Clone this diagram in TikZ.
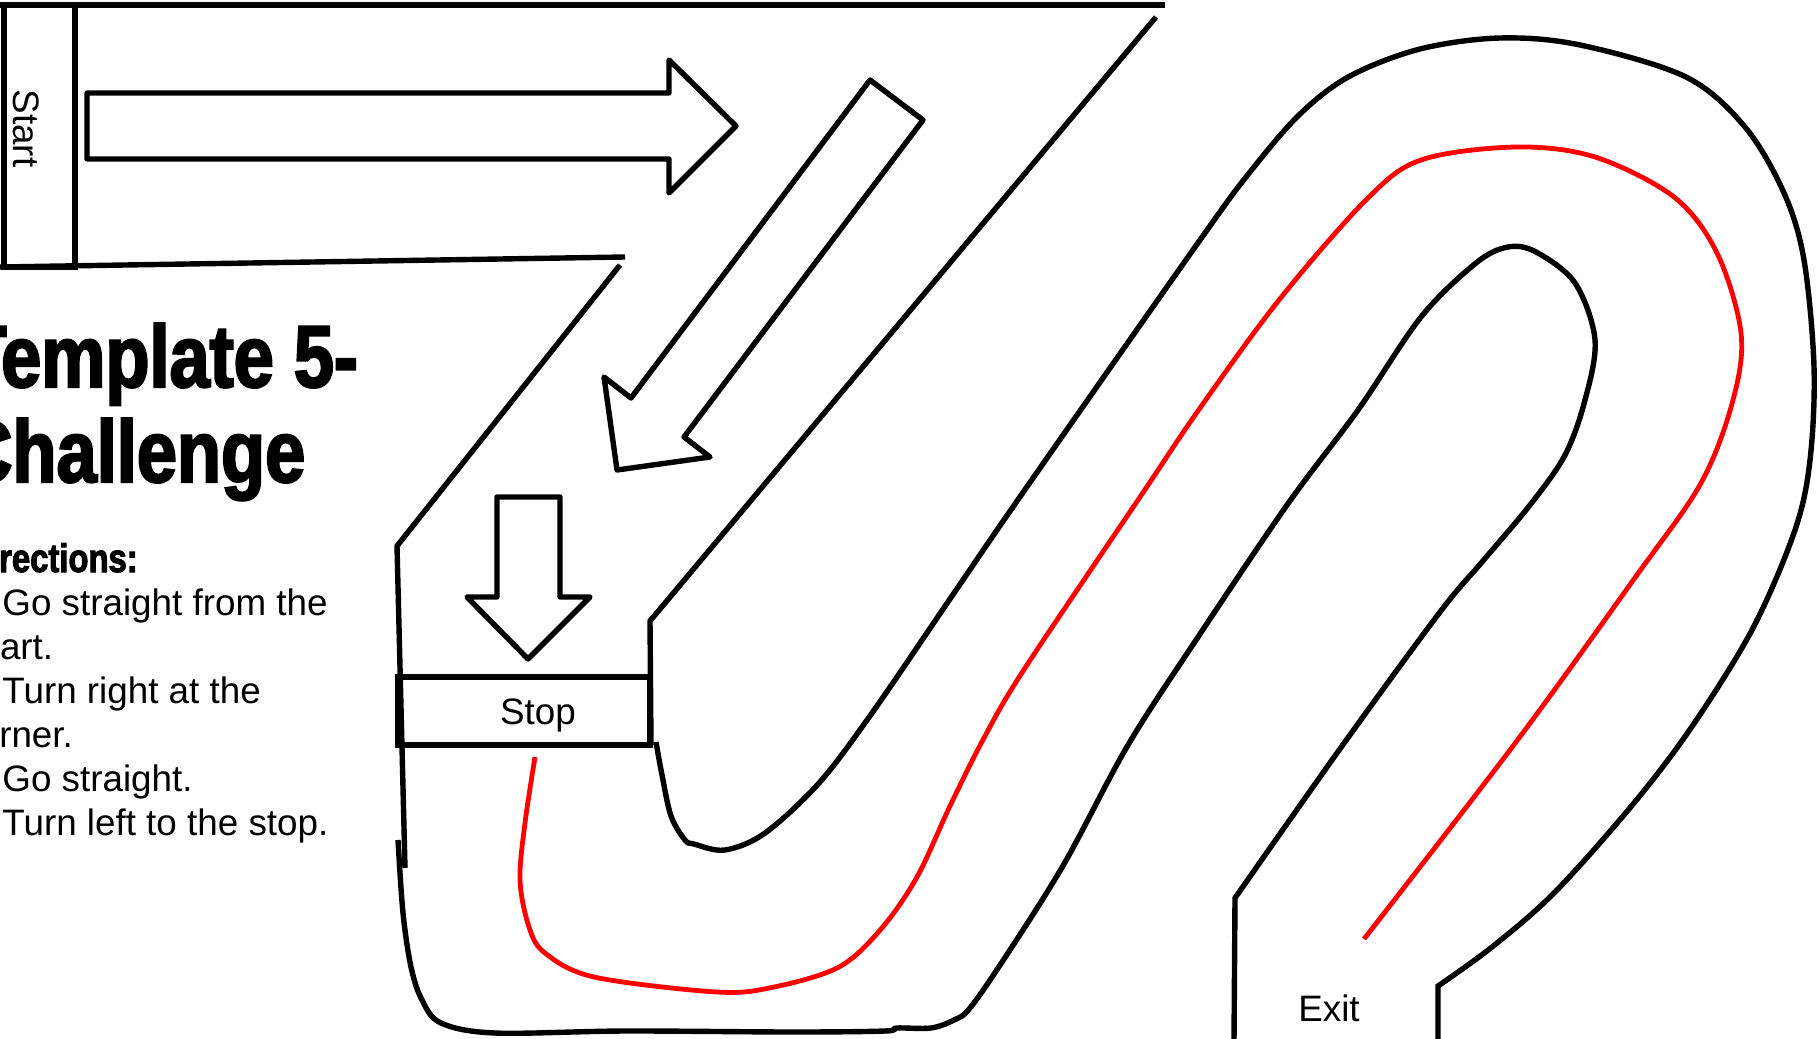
\documentclass[tikz,border=0pt]{standalone}
\usepackage{fontspec}
\setmainfont{Liberation Sans}
\newfontfamily\heavyfont[FakeStretch=0.82,FakeBold=2.5]{Liberation Sans Bold}
\tikzset{%
	wall/.style      = {draw, line width=2.7pt, line join=miter},
	centreline/.style = {draw=red, line width=2.4pt},
	bigarrow/.style  = {draw, line width=2.7pt, line join=round},
	gate/.style      = {draw, rectangle, line width=2.7pt, inner sep=0pt},
	words/.style     = {inner sep=0pt, font=\fontsize{18.4}{22}\selectfont}
}
\begin{document}
\begin{tikzpicture}[x=0.5pt, y=-0.5pt]
	\clip (0,0) rectangle (1819,1038);
	\fill[white] (0,0) rectangle (1819,1038);

	\node [anchor=base west, inner sep=0pt, font=\heavyfont\fontsize{44}{50}\selectfont] (title1) at (-38,387) {Template 5-};
	\node [anchor=base west, inner sep=0pt, font=\heavyfont\fontsize{44}{50}\selectfont] (title2) at (-40,482) {Challenge};
	\node [anchor=base west, inner sep=0pt, font=\heavyfont\fontsize{20}{24}\selectfont] (heading) at (-34,572) {Directions:};
	\foreach \dx/\txt [count=\i] in {-29/{\makebox[15.5pt][l]{1.}Go straight from the},
	                                 -29/{start.},
	                                 -29/{\makebox[15.5pt][l]{2.}Turn right at the},
	                                 -40/{corner.},
	                                 -29/{\makebox[15.5pt][l]{3.}Go straight.},
	                                 -29/{\makebox[15.5pt][l]{4.}Turn left to the stop.}}
		\node [words, anchor=base west] (step\i) at (\dx,571+44*\i) {\txt};

	\draw[wall] (0,5) -- (1165,5);
	\draw[wall] (0,267) -- (625,257);
	\draw[wall] (1156,17) -- (650,621) -- (651,745);
	\draw[wall] (620,265) -- (397,546) -- (405,868);
	\draw[wall] plot[smooth, tension=0.55] coordinates {(398,840) (403,913) (411,967) (422,1000) (441,1023)
		(495,1033) (625,1031) (793,1032) (885,1031) (897,1028) (931,1028) (954,1020) (970,1008)
		(1006,956) (1064,864) (1128,745) (1198,637) (1287,505) (1358,410) (1421,317) (1476,263)
		(1508,247) (1536,252) (1575,283) (1595,340) (1585,400) (1565,455) (1530,505) (1482,562)
		(1440,612) (1342,746) (1235,898)} -- (1234,1040);
	\draw[wall] plot[smooth, tension=0.55] coordinates {(656,742) (662,775) (671,816) (685,840) (694,844)
		(725,850) (765,833) (819,783) (872,713) (952,596) (1024,491) (1200,240) (1250,172) (1300,114)
		(1350,76) (1420,49) (1500,38) (1580,45) (1686,77) (1745,127) (1784,193) (1804,260) (1814,367)
		(1810,460) (1795,530) (1753,628) (1693,725) (1634,803) (1555,892) (1492,947) (1438,986)} -- (1438,1040);
	\draw[centreline] plot[smooth, tension=0.55] coordinates {(535,757) (525,823) (520,880) (529,927)
		(545,953) (594,977) (717,992) (774,987) (839,967) (881,929) (917,877) (950,806) (985,736)
		(1025,668) (1140,497) (1200,408) (1279,300) (1366,200) (1421,160) (1516,147) (1595,157)
		(1674,197) (1717,253) (1741,333) (1733,400) (1701,483) (1634,579) (1516,742) (1364,939)};

	\draw[bigarrow] (87,93) -- (669,93) -- (669,60) -- (736,126) -- (669,193) -- (669,159) -- (87,159) -- cycle;
	\draw[bigarrow] (870,80) -- (923,120) -- (684,437) -- (710,457) -- (617,470) -- (604,377) -- (631,398) -- cycle;
	\draw[bigarrow] (497,497) -- (560,497) -- (560,597) -- (590,597) -- (528,659) -- (467,597) -- (497,597) -- cycle;

	\node [gate, minimum width=35.5pt, minimum height=131pt] (startbox) at (39.5,136) {};
	\node [words, rotate=-90] (starttext) at (26.5,128.5) {Start};
	\node [gate, minimum width=126pt, minimum height=34pt] (stopbox) at (524,711) {};
	\node [words] (stoptext) at (538,715) {Stop};
	\node [words] (exittext) at (1329,1008.5) {Exit};
\end{tikzpicture}
\end{document}
